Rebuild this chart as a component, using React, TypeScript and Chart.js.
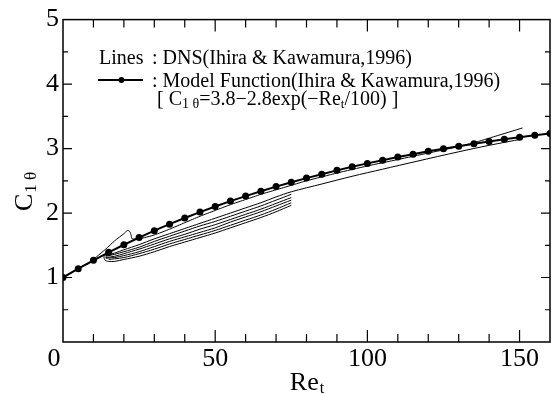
import React, { useEffect, useRef } from "react";
import { Chart, registerables } from "chart.js";
Chart.register(...registerables);

// Model function markers: C1θ = 3.8 - 2.8 exp(-Re_t/100), read at every 5
const modelRe = [0, 5, 10, 15, 20, 25, 30, 35, 40, 45, 50, 55, 60, 65, 70, 75, 80, 85, 90, 95, 100, 105, 110, 115, 120, 125, 130, 135, 140, 145, 150, 155, 160];
const modelC = [1.0, 1.137, 1.267, 1.39, 1.508, 1.619, 1.726, 1.827, 1.923, 2.015, 2.102, 2.185, 2.263, 2.338, 2.41, 2.477, 2.542, 2.603, 2.662, 2.717, 2.77, 2.82, 2.868, 2.913, 2.957, 2.998, 3.037, 3.074, 3.11, 3.143, 3.175, 3.206, 3.235];

// DNS lines
const dns1Re = [8, 11, 14, 17, 20, 21.2, 22, 22.4, 22.7, 25, 30, 35, 40, 45, 50, 55, 60, 65, 70, 75, 80, 90, 100, 110, 120, 128, 135, 142, 151];
const dns1C = [1.2, 1.32, 1.44, 1.57, 1.68, 1.73, 1.71, 1.65, 1.6, 1.6, 1.66, 1.75, 1.85, 1.95, 2.04, 2.13, 2.21, 2.29, 2.36, 2.43, 2.5, 2.62, 2.73, 2.83, 2.93, 3.01, 3.09, 3.19, 3.32];

const dns2Re = [14, 17, 20, 25, 30, 35, 40, 45, 50, 55, 60, 65, 70, 75, 85, 95, 105, 116, 130, 140, 151];
const dns2C = [1.34, 1.38, 1.43, 1.51, 1.6, 1.68, 1.76, 1.84, 1.92, 2.0, 2.08, 2.16, 2.25, 2.33, 2.45, 2.57, 2.68, 2.8, 2.95, 3.05, 3.15];

const dns3Re = [14, 17, 20, 25, 30, 35, 40, 45, 50, 55, 60, 65, 70, 75];
const dns3C = [1.33, 1.36, 1.4, 1.47, 1.56, 1.64, 1.72, 1.8, 1.87, 1.95, 2.03, 2.11, 2.2, 2.29];

const dns4Re = [14, 17, 20, 25, 30, 35, 40, 45, 50, 55, 60, 65, 70, 75];
const dns4C = [1.31, 1.33, 1.37, 1.44, 1.52, 1.6, 1.67, 1.75, 1.82, 1.9, 1.98, 2.06, 2.15, 2.24];

const dns5Re = [14, 17, 20, 25, 30, 35, 40, 45, 50, 55, 60, 65, 70, 75];
const dns5C = [1.3, 1.31, 1.34, 1.4, 1.48, 1.56, 1.63, 1.7, 1.77, 1.86, 1.94, 2.02, 2.11, 2.2];

const dns6Re = [15, 17, 20, 25, 30, 35, 40, 45, 50, 55, 60, 65, 70, 75];
const dns6C = [1.28, 1.29, 1.31, 1.37, 1.44, 1.52, 1.59, 1.66, 1.73, 1.81, 1.89, 1.97, 2.06, 2.16];

const dns7Re = [14.8, 13.5, 13.8, 15, 17, 20, 25, 30, 35, 40, 45, 50, 55, 60, 65, 70, 75];
const dns7C = [1.38, 1.33, 1.27, 1.25, 1.25, 1.28, 1.33, 1.4, 1.48, 1.55, 1.62, 1.69, 1.77, 1.85, 1.93, 2.02, 2.12];

const xTickLabels = ["0", "50", "100", "150"];
const yTickLabels = ["1", "2", "3", "4", "5"];

const SERIF = "'Liberation Serif', 'Times New Roman', serif";

const pts = (xs: number[], ys: number[]) => xs.map((x, i) => ({ x, y: ys[i] }));

const frameTicks = {
  id: "frameTicks",
  afterDraw(chart: any) {
    const { ctx, chartArea: a, scales } = chart;
    const xs = scales.x;
    const ys = scales.y;
    ctx.save();
    ctx.strokeStyle = "#000";
    ctx.lineWidth = 1.5;
    ctx.strokeRect(a.left, a.top, a.right - a.left, a.bottom - a.top);
    ctx.lineWidth = 1.2;
    ctx.beginPath();
    xs.ticks.forEach((t: any) => {
      if (t.value <= 0 || t.value >= 160) return;
      const p = xs.getPixelForValue(t.value);
      const L = t.value % 50 === 0 ? 12 : 8;
      ctx.moveTo(p, a.bottom);
      ctx.lineTo(p, a.bottom - L);
      ctx.moveTo(p, a.top);
      ctx.lineTo(p, a.top + L);
    });
    ys.ticks.forEach((t: any) => {
      if (t.value <= 0 || t.value >= 5) return;
      const p = ys.getPixelForValue(t.value);
      const L = Math.abs(t.value - Math.round(t.value)) < 1e-6 ? 9 : 5;
      ctx.moveTo(a.left, p);
      ctx.lineTo(a.left + L, p);
      ctx.moveTo(a.right, p);
      ctx.lineTo(a.right - L, p);
    });
    ctx.stroke();

    // axis titles
    ctx.fillStyle = "#000";
    ctx.textBaseline = "alphabetic";
    ctx.textAlign = "left";
    // x title Re_t
    ctx.font = `26px ${SERIF}`;
    const wRe = ctx.measureText("Re").width;
    ctx.font = `16px ${SERIF}`;
    const wt = ctx.measureText("t").width;
    const cx = (a.left + a.right) / 2;
    const x0 = cx - (wRe + wt) / 2;
    ctx.font = `26px ${SERIF}`;
    ctx.fillText("Re", x0, 390);
    ctx.font = `16px ${SERIF}`;
    ctx.fillText("t", x0 + wRe + 1, 393);

    // y title C_{1θ}
    ctx.save();
    ctx.translate(32, 192);
    ctx.rotate(-Math.PI / 2);
    ctx.font = `26px ${SERIF}`;
    const wC = ctx.measureText("C").width;
    ctx.font = `17px ${SERIF}`;
    const ws = ctx.measureText("1 θ").width;
    const s = -(wC + ws) / 2;
    ctx.font = `26px ${SERIF}`;
    ctx.fillText("C", s, 0);
    ctx.font = `17px ${SERIF}`;
    ctx.fillText("1 θ", s + wC + 1, 4);
    ctx.restore();

    // legend block
    ctx.font = `20px ${SERIF}`;
    ctx.fillText("Lines", 99, 64);
    ctx.fillText(": DNS(Ihira & Kawamura,1996)", 152, 64);
    ctx.lineWidth = 2;
    ctx.beginPath();
    ctx.moveTo(98, 80);
    ctx.lineTo(143, 80);
    ctx.stroke();
    ctx.beginPath();
    ctx.arc(121.5, 80, 3, 0, Math.PI * 2);
    ctx.fill();
    ctx.fillText(": Model Function(Ihira & Kawamura,1996)", 152, 87);
    let lx = 157;
    const seg = (txt: string, size: number, dy: number) => {
      ctx.font = `${size}px ${SERIF}`;
      ctx.fillText(txt, lx, 105 + dy);
      lx += ctx.measureText(txt).width;
    };
    seg("[ C", 20, 0);
    seg("1 θ", 14, 3);
    seg("=3.8\u22122.8exp(\u2212Re", 20, 0);
    seg("t", 13, 3);
    seg("/100) ]", 20, 0);
    ctx.restore();
  },
};

export default function App() {
  const ref = useRef<HTMLCanvasElement | null>(null);
  useEffect(() => {
    if (!ref.current) return;
    const thin = (xs: number[], ys: number[], tension = 0.3) => ({
      data: pts(xs, ys),
      borderColor: "#000",
      borderWidth: 1,
      pointRadius: 0,
      tension,
      fill: false,
      order: 2,
    });
    const chart = new Chart(ref.current, {
      type: "line",
      data: {
        datasets: [
          {
            data: pts(modelRe, modelC),
            borderColor: "#000",
            backgroundColor: "#000",
            borderWidth: 2,
            pointRadius: 3.5,
            pointBackgroundColor: "#000",
            pointBorderWidth: 0,
            tension: 0,
            fill: false,
            order: 1,
          },
          thin(dns1Re, dns1C, 0.2),
          thin(dns2Re, dns2C),
          thin(dns3Re, dns3C),
          thin(dns4Re, dns4C),
          thin(dns5Re, dns5C),
          thin(dns6Re, dns6C),
          thin(dns7Re, dns7C),
        ] as any,
      },
      options: {
        animation: false,
        responsive: false,
        parsing: false as any,
        layout: { padding: { top: 16, right: 1, left: 0, bottom: 0 } },
        plugins: { legend: { display: false }, tooltip: { enabled: false } },
        scales: {
          x: {
            type: "linear",
            min: 0,
            max: 160,
            grid: { display: false, drawTicks: false },
            border: { display: false },
            ticks: {
              stepSize: 10,
              autoSkip: false,
              maxRotation: 0,
              padding: 2,
              color: "#000",
              font: { family: SERIF, size: 26 },
              callback: (v: any) => {
                const s = String(v);
                if (!xTickLabels.includes(s)) return "";
                return s === "0" ? "0\u2002\u2009" : s;
              },
            },
            afterFit: (s: any) => {
              s.height = 52;
            },
          },
          y: {
            type: "linear",
            min: 0,
            max: 5,
            grid: { display: false, drawTicks: false },
            border: { display: false },
            ticks: {
              stepSize: 0.5,
              autoSkip: false,
              padding: 4,
              color: "#000",
              font: { family: SERIF, size: 26 },
              callback: (v: any) => {
                const s = String(v);
                return yTickLabels.includes(s) ? s : "";
              },
            },
            afterFit: (s: any) => {
              s.width = 63;
            },
          },
        },
      },
      plugins: [frameTicks],
    });
    return () => chart.destroy();
  }, []);
  return (
    <div style={{ position: "absolute", left: 0, top: 0, width: 554, height: 394, background: "#fff" }}>
      <canvas ref={ref} width={554} height={394} style={{ display: "block" }} />
    </div>
  );
}
